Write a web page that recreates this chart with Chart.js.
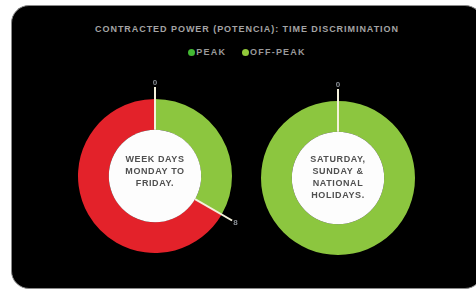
<!DOCTYPE html>
<html>
<head>
<meta charset="utf-8">
<script src="https://cdn.jsdelivr.net/npm/chart.js@4.4.0/dist/chart.umd.min.js"></script>
<style>
  html, body { margin: 0; padding: 0; background: #fff; width: 476px; height: 291px; overflow: hidden; }
  #box {
    position: absolute; left: 11px; top: 5px; width: 470px; height: 282px;
    background: #000; border: 1px solid #8a8a8a; border-radius: 18px;
  }
  #title {
    position: absolute; left: 0; top: 24px; width: 494px; text-align: center;
    font: bold 9px "Liberation Sans", Arial, sans-serif; color: #a4a4a4; letter-spacing: 0.95px;
  }
  #legend {
    position: absolute; left: 0; top: 47px; width: 494px; text-align: center;
    font: bold 9px "Liberation Sans", Arial, sans-serif; color: #9a9a9a; letter-spacing: 1.2px;
  }
  #legend span.item { margin: 0 8px; }
  #legend span.dot {
    display: inline-block; width: 7px; height: 7px; border-radius: 50%;
    vertical-align: -1px; margin-right: 1px;
  }
  canvas { position: absolute; }
</style>
</head>
<body>
<div id="box"></div>
<div id="title">CONTRACTED POWER (POTENCIA): TIME DISCRIMINATION</div>
<div id="legend"></div>
<canvas id="weekdays" width="200" height="200" style="left:55px;top:76px"></canvas>
<canvas id="holidays" width="200" height="200" style="left:238px;top:78px"></canvas>
<script>
// leyenda (colores del original)
const legendLabels = ['PEAK', 'OFF-PEAK'];
const legendColors = ['#43b833', '#92c93a'];

// horas por tramo
const weekdayLabels = ['0-8 h', '8-24 h'];
const weekdayHours = [8, 16];
const weekdayColors = ['#8cc63f', '#e3222a'];
const weekdayTicks = ['0', '8'];
const weekdayText = ['WEEK DAYS', 'MONDAY TO', 'FRIDAY.'];

const holidayLabels = ['0-24 h'];
const holidayHours = [24];
const holidayColors = ['#8cc63f'];
const holidayTicks = ['0'];
const holidayText = ['SATURDAY,', 'SUNDAY &', 'NATIONAL', 'HOLIDAYS.'];

document.getElementById('legend').innerHTML = legendLabels.map((l, i) =>
  `<span class="item"><span class="dot" style="background:${legendColors[i]}"></span>${l}</span>`
).join('');

// círculo blanco, separadores y texto central
const ringDeco = {
  id: 'ringDeco',
  afterDatasetsDraw(chart, args, opts) {
    const ctx = chart.ctx;
    const arcs = chart.getDatasetMeta(0).data;
    const a0 = arcs[0];
    const cx = a0.x, cy = a0.y, rIn = a0.innerRadius, rOut = a0.outerRadius;
    ctx.save();
    ctx.fillStyle = '#fdfdfd';
    ctx.beginPath();
    ctx.arc(cx, cy, rIn, 0, Math.PI * 2);
    ctx.fill();

    arcs.forEach((arc, i) => {
      const t = opts.ticks[i];
      if (t === undefined) return;
      const ang = arc.startAngle;
      const c = Math.cos(ang), s = Math.sin(ang);
      ctx.strokeStyle = '#f4f1dc';
      ctx.lineWidth = 2;
      ctx.beginPath();
      ctx.moveTo(cx + c * rIn, cy + s * rIn);
      ctx.lineTo(cx + c * (rOut + 12), cy + s * (rOut + 12));
      ctx.stroke();
      ctx.fillStyle = '#8a8f96';
      ctx.font = 'bold 8px "Liberation Sans", Arial, sans-serif';
      ctx.textAlign = 'center';
      ctx.textBaseline = 'middle';
      ctx.fillText(t, cx + c * (rOut + 16), cy + s * (rOut + 16));
    });

    const lines = opts.text;
    const lh = 12;
    ctx.fillStyle = '#505050';
    ctx.font = 'bold 9px "Liberation Sans", Arial, sans-serif';
    ctx.letterSpacing = '0.6px';
    ctx.textAlign = 'center';
    ctx.textBaseline = 'middle';
    const y0 = cy + opts.dy - (lines.length - 1) * lh / 2;
    lines.forEach((l, i) => ctx.fillText(l, cx, y0 + i * lh));
    ctx.restore();
  }
};

function makeRing(id, labels, data, colors, ticks, text, dy) {
  new Chart(document.getElementById(id), {
    type: 'doughnut',
    data: {
      labels,
      datasets: [{ data, backgroundColor: colors, borderWidth: 0 }]
    },
    options: {
      responsive: false,
      animation: false,
      cutout: '60%',
      layout: { padding: 23 },
      plugins: {
        legend: { display: false },
        tooltip: { enabled: false },
        ringDeco: { ticks, text, dy }
      }
    },
    plugins: [ringDeco]
  });
}

makeRing('weekdays', weekdayLabels, weekdayHours, weekdayColors, weekdayTicks, weekdayText, -4);
makeRing('holidays', holidayLabels, holidayHours, holidayColors, holidayTicks, holidayText, 0);
</script>
</body>
</html>
